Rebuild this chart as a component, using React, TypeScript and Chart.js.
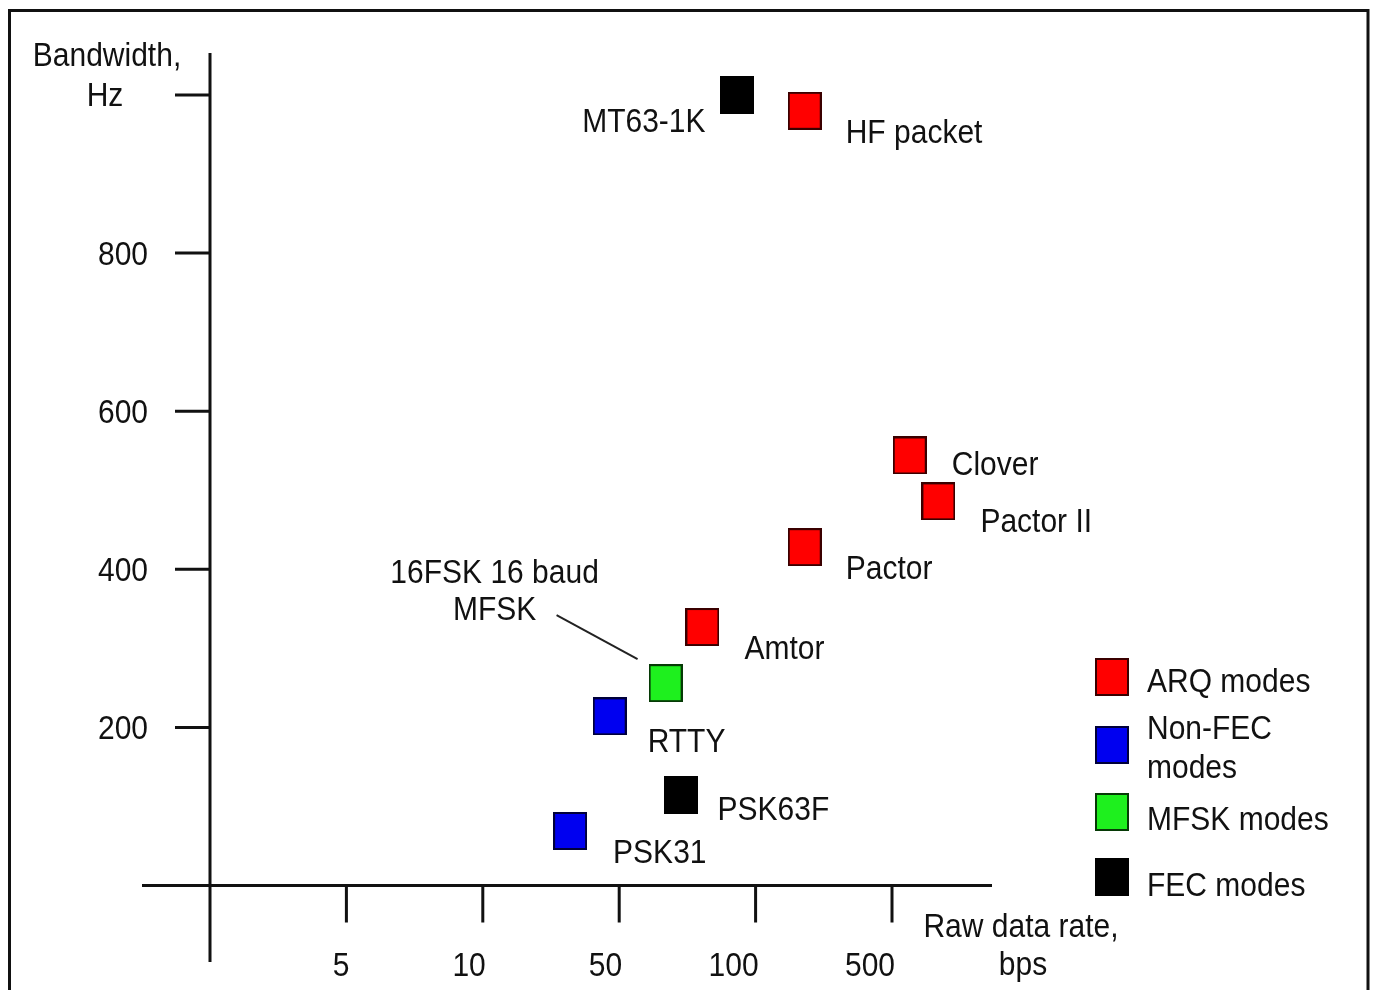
import React, { useEffect, useRef } from "react";
import { Chart, registerables } from "chart.js";

Chart.register(...registerables);

// ---- data (x = position on the raw data rate axis, y = bandwidth in Hz) ----
const arqNames = ["HF packet", "Clover", "Pactor II", "Pactor", "Amtor"];
const arqRate = [4.36, 5.13, 5.34, 4.36, 3.61];
const arqBandwidth = [980, 544, 486, 428, 327];

const nonFecNames = ["RTTY", "PSK31"];
const nonFecRate = [2.93, 2.64];
const nonFecBandwidth = [214, 69];

const mfskNames = ["16FSK 16 baud\nMFSK"];
const mfskRate = [3.34];
const mfskBandwidth = [256];

const fecNames = ["MT63-1K", "PSK63F"];
const fecRate = [3.86, 3.45];
const fecBandwidth = [1000, 114];

const xTickValues = [1, 2, 3, 4, 5];
const xTickLabels = ["5", "10", "50", "100", "500"];
const yTickValues = [200, 400, 600, 800, 1000];
const yTickLabels = ["200", "400", "600", "800", ""];

const seriesLabels = ["ARQ modes", "Non-FEC\nmodes", "MFSK modes", "FEC modes"];
const yAxisTitle = ["Bandwidth,", "Hz"];
const xAxisTitle = ["Raw data rate,", "bps"];

// ---- styles / layout ----
const seriesColors = ["#ff0000", "#0000f0", "#1ef01e", "#000000"];
const seriesBorders = ["#3a0000", "#00003a", "#063a06", "#000000"];
const FONT = '30px "Liberation Sans", Arial, sans-serif';
const TEXT = "#111111";
const V = 1.1; // vertical stretch of the lettering

// label placement relative to its point: dx, dy (cap centre), align
const labelLayout: Record<string, { dx: number; dy: number; align: CanvasTextAlign }> = {
  "HF packet": { dx: 41, dy: 20, align: "left" },
  Clover: { dx: 42, dy: 8, align: "left" },
  "Pactor II": { dx: 42, dy: 19, align: "left" },
  Pactor: { dx: 41, dy: 20, align: "left" },
  Amtor: { dx: 42, dy: 20, align: "left" },
  RTTY: { dx: 38, dy: 24, align: "left" },
  PSK31: { dx: 43, dy: 20, align: "left" },
  "MT63-1K": { dx: -31, dy: 25, align: "right" },
  PSK63F: { dx: 37, dy: 13, align: "left" },
  "16FSK 16 baud\nMFSK": { dx: -171, dy: -112, align: "center" },
};

function makeMarker(fill: string, border: string) {
  const c = document.createElement("canvas");
  c.width = 34;
  c.height = 38;
  const g = c.getContext("2d")!;
  g.fillStyle = border;
  g.fillRect(0, 0, 34, 38);
  g.fillStyle = fill;
  g.fillRect(2, 2, 30, 34);
  return c;
}

function text(ctx: CanvasRenderingContext2D, s: string, x: number, y: number, align: CanvasTextAlign) {
  ctx.save();
  ctx.translate(x, y);
  ctx.scale(1, V);
  ctx.font = FONT;
  ctx.fillStyle = TEXT;
  ctx.textAlign = align;
  ctx.textBaseline = "alphabetic";
  ctx.fillText(s, 0, 10.7);
  ctx.restore();
}

const drawPlugin = {
  id: "drawPlugin",
  beforeDatasetsDraw(chart: any) {
    const ctx: CanvasRenderingContext2D = chart.ctx;
    const { chartArea: a, scales } = chart;
    const xs = scales.x;
    const ys = scales.y;
    const x0 = xs.getPixelForValue(0);
    const y0 = ys.getPixelForValue(0);
    ctx.save();
    // frame
    ctx.strokeStyle = "#111";
    ctx.lineWidth = 3;
    ctx.strokeRect(9.5, 10.5, 1358.5, 1000);
    // axes
    ctx.lineWidth = 3;
    ctx.beginPath();
    ctx.moveTo(a.left, y0);
    ctx.lineTo(a.right, y0);
    ctx.moveTo(x0, a.top);
    ctx.lineTo(x0, a.bottom);
    // ticks
    yTickValues.forEach((v) => {
      const py = ys.getPixelForValue(v);
      ctx.moveTo(x0 - 35, py);
      ctx.lineTo(x0, py);
    });
    xTickValues.forEach((v) => {
      const px = xs.getPixelForValue(v);
      ctx.moveTo(px, y0);
      ctx.lineTo(px, y0 + 37);
    });
    ctx.stroke();
    ctx.restore();
    yTickValues.forEach((v, i) => {
      if (yTickLabels[i]) text(ctx, yTickLabels[i], x0 - 62, ys.getPixelForValue(v), "right");
    });
    xTickValues.forEach((v, i) => {
      text(ctx, xTickLabels[i], xs.getPixelForValue(v) + 3, y0 + 79, "right");
    });
    // axis titles
    text(ctx, yAxisTitle[0], x0 - 103, ys.getPixelForValue(1000) - 41, "center");
    text(ctx, yAxisTitle[1], x0 - 105, ys.getPixelForValue(1000) - 1, "center");
    text(ctx, xAxisTitle[0], xs.getPixelForValue(5) + 129, y0 + 40, "center");
    text(ctx, xAxisTitle[1], xs.getPixelForValue(5) + 131, y0 + 78, "center");
  },
  afterDatasetsDraw(chart: any) {
    const ctx: CanvasRenderingContext2D = chart.ctx;
    chart.data.datasets.forEach((ds: any, di: number) => {
      const meta = chart.getDatasetMeta(di);
      ds.names.forEach((name: string, i: number) => {
        const el = meta.data[i];
        const L = labelLayout[name];
        const lines = name.split("\n");
        lines.forEach((ln, k) => text(ctx, ln, el.x + L.dx, el.y + L.dy + k * 37, L.align));
        if (lines.length > 1) {
          ctx.save();
          ctx.strokeStyle = "#222";
          ctx.lineWidth = 2;
          ctx.beginPath();
          ctx.moveTo(el.x - 109, el.y - 68);
          ctx.lineTo(el.x - 28, el.y - 24);
          ctx.stroke();
          ctx.restore();
        }
      });
    });
    // legend
    const legendX = 1112;
    const legendY = [677, 745, 812, 877];
    const legendTextDy = [[3], [-18, 21], [6], [7]];
    chart.data.datasets.forEach((ds: any, di: number) => {
      const m = ds.pointStyle as HTMLCanvasElement;
      ctx.drawImage(m, legendX - m.width / 2, legendY[di] - m.height / 2);
      seriesLabels[di].split("\n").forEach((ln, k) => {
        text(ctx, ln, legendX + 35, legendY[di] + legendTextDy[di][k], "left");
      });
    });
  },
};

export default function App() {
  const ref = useRef<HTMLCanvasElement>(null);
  useEffect(() => {
    document.body.style.margin = "0";
    const groups = [
      { names: arqNames, x: arqRate, y: arqBandwidth },
      { names: nonFecNames, x: nonFecRate, y: nonFecBandwidth },
      { names: mfskNames, x: mfskRate, y: mfskBandwidth },
      { names: fecNames, x: fecRate, y: fecBandwidth },
    ];
    const datasets = groups.map((g, i) => ({
      label: seriesLabels[i].replace("\n", " "),
      names: g.names,
      data: g.x.map((x, k) => ({ x, y: g.y[k] })),
      pointStyle: makeMarker(seriesColors[i], seriesBorders[i]),
      pointRadius: 17,
      backgroundColor: seriesColors[i],
      borderColor: seriesBorders[i],
    }));
    const pxPerX = 136.4;
    const pxPerY = 0.7905;
    const chart = new Chart(ref.current!, {
      type: "scatter",
      data: { datasets } as any,
      options: {
        responsive: false,
        animation: false,
        layout: { padding: { left: 142, right: 383, top: 53, bottom: 28 } },
        scales: {
          x: { type: "linear", display: false, min: -(210 - 142) / pxPerX, max: 5 + (992 - 892) / pxPerX },
          y: { type: "linear", display: false, min: -(962 - 885.5) / pxPerY, max: 1000 + (95 - 53) / pxPerY },
        },
        plugins: { legend: { display: false }, tooltip: { enabled: false } },
      },
      plugins: [drawPlugin],
    });
    return () => chart.destroy();
  }, []);
  return (
    <div style={{ position: "fixed", left: 0, top: 0, width: 1375, height: 990, background: "#fff" }}>
      <canvas ref={ref} width={1375} height={990} style={{ display: "block", width: 1375, height: 990 }} />
    </div>
  );
}
